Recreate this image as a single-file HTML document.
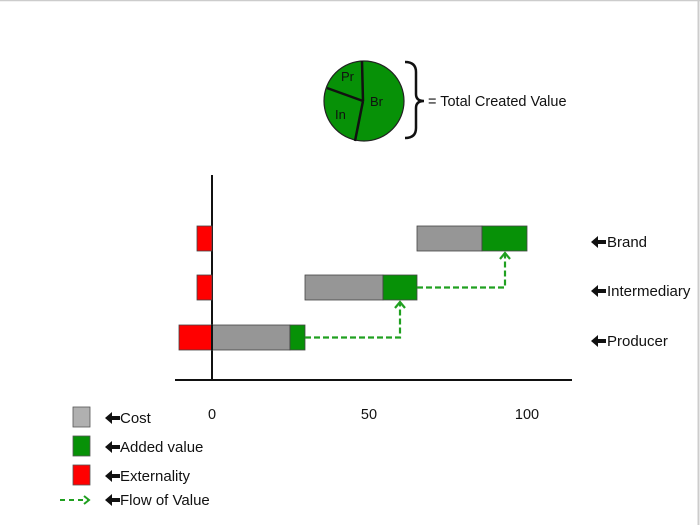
<!DOCTYPE html>
<html><head><meta charset="utf-8"><style>
html,body{margin:0;padding:0;background:#fff;}
svg{display:block;font-family:"Liberation Sans",sans-serif;}
</style></head><body>
<svg width="700" height="525" viewBox="0 0 700 525">
<rect x="0" y="0" width="700" height="525" fill="#fff"/>
<line x1="0" y1="0.5" x2="700" y2="0.5" stroke="#ccc" stroke-width="1.5"/>
<line x1="698.5" y1="0" x2="698.5" y2="525" stroke="#ccc" stroke-width="2"/>
<circle cx="364" cy="101" r="40" fill="#079107" stroke="#222" stroke-width="1.2"/>
<line x1="363" y1="101" x2="362" y2="61" stroke="#111" stroke-width="2.5"/>
<line x1="363" y1="101" x2="355" y2="141" stroke="#111" stroke-width="2.5"/>
<line x1="363" y1="101" x2="327" y2="88" stroke="#111" stroke-width="2.5"/>
<text x="341" y="81" font-size="13" fill="#111">Pr</text>
<text x="370" y="106" font-size="13" fill="#111">Br</text>
<text x="335" y="119" font-size="13" fill="#111">In</text>
<path d="M405 62 Q416 62 416 72 L416 94 Q416 101 424 101 Q416 101 416 108 L416 128 Q416 138 405 138" fill="none" stroke="#111" stroke-width="2.5"/>
<text x="428" y="106" font-size="14.5" fill="#111">= Total Created Value</text>
<line x1="212" y1="175" x2="212" y2="381" stroke="#111" stroke-width="2"/>
<line x1="175" y1="380" x2="572" y2="380" stroke="#111" stroke-width="2"/>
<text x="212" y="419" font-size="14.5" text-anchor="middle" fill="#111">0</text>
<text x="369" y="419" font-size="14.5" text-anchor="middle" fill="#111">50</text>
<text x="527" y="419" font-size="14.5" text-anchor="middle" fill="#111">100</text>
<g stroke="#444" stroke-width="0.8">
<rect x="197" y="226" width="15" height="25" fill="#f00"/>
<rect x="417" y="226" width="65" height="25" fill="#969696"/>
<rect x="482" y="226" width="45" height="25" fill="#079107"/>
<rect x="197" y="275" width="15" height="25" fill="#f00"/>
<rect x="305" y="275" width="78" height="25" fill="#969696"/>
<rect x="383" y="275" width="34" height="25" fill="#079107"/>
<rect x="179" y="325" width="33" height="25" fill="#f00"/>
<rect x="212" y="325" width="78" height="25" fill="#969696"/>
<rect x="290" y="325" width="15" height="25" fill="#079107"/>
</g>
<line x1="212" y1="325" x2="212" y2="350" stroke="#111" stroke-width="2"/>
<g fill="none" stroke="#20a020" stroke-width="2.2" stroke-dasharray="6,3">
<path d="M305 337.5 H400 V303"/>
<path d="M417 287.5 H505 V254"/>
</g>
<g fill="none" stroke="#20a020" stroke-width="2.2">
<path d="M395 308 L400 302 L405 308"/>
<path d="M500 259 L505 253 L510 259"/>
</g>
<g font-size="15" fill="#111">
<path d="M591 242 l7 -6 v4 h8 v4 h-8 v4 z"/><text x="607" y="247">Brand</text>
<path d="M591 291 l7 -6 v4 h8 v4 h-8 v4 z"/><text x="607" y="296">Intermediary</text>
<path d="M591 341 l7 -6 v4 h8 v4 h-8 v4 z"/><text x="607" y="346">Producer</text>
</g>
<g stroke="#555" stroke-width="0.8">
<rect x="73" y="407" width="17" height="20" fill="#b0b0b0"/>
<rect x="73" y="436" width="17" height="20" fill="#079107"/>
<rect x="73" y="465" width="17" height="20" fill="#f00"/>
</g>
<line x1="60" y1="500" x2="88" y2="500" stroke="#20a020" stroke-width="2" stroke-dasharray="5,4"/>
<path d="M84 496 L89 500 L84 504" fill="none" stroke="#20a020" stroke-width="2"/>
<g font-size="15" fill="#111">
<path d="M105 418 l7 -6 v4 h8 v4 h-8 v4 z"/><text x="120" y="423">Cost</text>
<path d="M105 447 l7 -6 v4 h8 v4 h-8 v4 z"/><text x="120" y="452">Added value</text>
<path d="M105 476 l7 -6 v4 h8 v4 h-8 v4 z"/><text x="120" y="481">Externality</text>
<path d="M105 500 l7 -6 v4 h8 v4 h-8 v4 z"/><text x="120" y="505">Flow of Value</text>
</g>
</svg>
</body></html>
